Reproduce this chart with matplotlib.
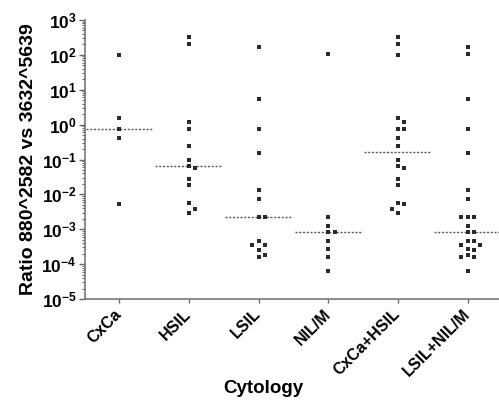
import numpy as np
import matplotlib
matplotlib.use("Agg")
import matplotlib.pyplot as plt

plt.rcParams['font.family'] = ['Liberation Sans', 'DejaVu Sans']
plt.rcParams['font.weight'] = 'bold'
plt.rcParams['mathtext.fontset'] = 'custom'
plt.rcParams['mathtext.rm'] = 'Liberation Sans:bold'
plt.rcParams['mathtext.bf'] = 'Liberation Sans:bold'
plt.rcParams['mathtext.it'] = 'Liberation Sans:bold'

categories = ["CxCa", "HSIL", "LSIL", "NIL/M", "CxCa+HSIL", "LSIL+NIL/M"]

cxca = [100, 1.5, 0.75, 0.42, 0.0052]
hsil = [330, 210, 1.2, 0.76, 0.24, 0.095, 0.065, 0.058, 0.028, 0.018,
        0.0055, 0.0039, 0.003]
lsil = [163, 5.6, 0.76, 0.15, 0.013, 0.0074, 0.0022, 0.0022, 0.00045,
        0.00036, 0.00036, 0.00025, 0.00018, 0.00016]
nilm = [105, 0.0023, 0.00126, 0.00085, 0.00085, 0.00047, 0.00027,
        0.000155, 6.4e-5]
cxca_hsil = cxca + hsil
lsil_nilm = lsil + nilm
groups = [cxca, hsil, lsil, nilm, cxca_hsil, lsil_nilm]

yticks = [1e-5, 1e-4, 1e-3, 1e-2, 1e-1, 1e0, 1e1, 1e2, 1e3]
ytick_labels = [r'$10^{%d}$' % int(round(np.log10(v))) for v in yticks]

fig = plt.figure(figsize=(4.99, 4.0), dpi=100)
ax = fig.add_axes([85/499, (400-299)/400, (499-85)/499, (299-20)/400])
ax.set_yscale('log')
ax.set_ylim(1e-5, 1e3)
ax.set_xlim(-0.49, 5.45)

fig.canvas.draw()
trans = ax.transData
d = 6.3  # marker spacing in px

for i, vals in enumerate(groups):
    order = sorted(vals, reverse=True)
    placed = []
    xs, ys = [], []
    for v in order:
        px, py = trans.transform((i, v))
        cands = [0]
        for k in range(1, 6):
            cands += [k, -k]
        for c in cands:
            cx = px + c * d
            ok = all((cx - qx) ** 2 + (py - qy) ** 2 >= (d * 0.9) ** 2 for qx, qy in placed)
            if ok:
                placed.append((cx, py))
                break
        dx, dy = trans.inverted().transform((placed[-1][0], py))
        xs.append(dx)
        ys.append(v)
    ax.scatter(xs, ys, s=5.5, marker='s', color='#2a2a2a', linewidths=0, zorder=3)
    med = np.median(vals)
    ax.plot([i - 0.48, i + 0.48], [med, med], color='#555555', lw=1.0,
            linestyle=(0, (1.5, 1.2)), zorder=2)

ax.set_yticks(yticks)
ax.set_yticklabels(ytick_labels, fontsize=12.5)
ax.yaxis.set_minor_locator(matplotlib.ticker.LogLocator(base=10, subs=np.arange(2, 10), numticks=20))
ax.yaxis.set_minor_formatter(matplotlib.ticker.NullFormatter())
ax.tick_params(axis='y', which='major', length=4, width=1, color='#666666', pad=2)
ax.tick_params(axis='y', which='minor', length=2, width=0.7, color='#666666')

ax.set_xticks(range(len(categories)))
ax.set_xticklabels(categories, rotation=45, ha='right', va='center',
                   rotation_mode='anchor', fontsize=11.5, fontweight='bold')
ax.tick_params(axis='x', length=3, width=1, color='#666666', pad=6)

for s in ['top', 'right']:
    ax.spines[s].set_visible(False)
for s in ['left', 'bottom']:
    ax.spines[s].set_color('#777777')
    ax.spines[s].set_linewidth(1.2)

ax.set_ylabel('Ratio 880^2582 vs 3632^5639', fontsize=14, fontweight='bold')
ax.yaxis.set_label_coords(-0.117, 0.5)
ax.set_xlabel('Cytology', fontsize=13.5, fontweight='bold')
ax.xaxis.set_label_coords(0.43, -0.29)

fig.savefig('out.png', dpi=100)
